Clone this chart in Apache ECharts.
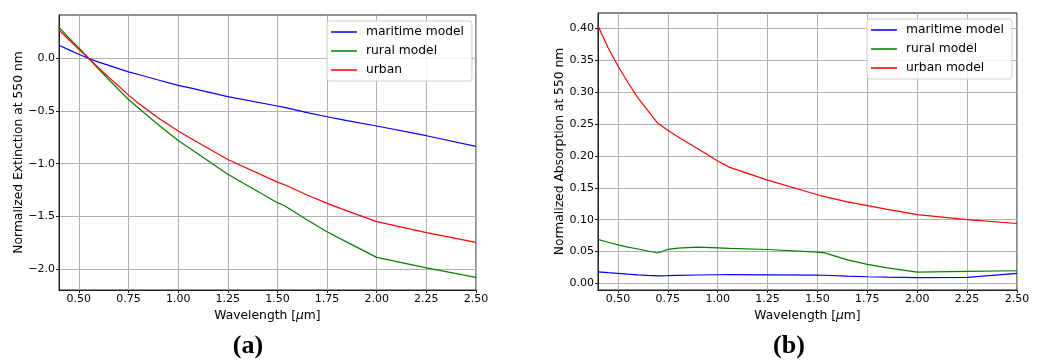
<!DOCTYPE html>
<html>
<head>
<meta charset="utf-8">
<script src="https://cdn.jsdelivr.net/npm/echarts@6/dist/echarts.min.js"></script>
<style>html,body{margin:0;padding:0;background:#fff;}#c{width:1041px;height:360px;}</style>
</head>
<body>
<div id="c"></div>
<script>
const wavelength = [0.4,0.45,0.5,0.55,0.6,0.65,0.7,0.75,0.8,0.9,1.0,1.06,1.25,1.5,1.536,1.65,1.75,1.85,2.0,2.25,2.5];
const xTicks = [0.5,0.75,1.0,1.25,1.5,1.75,2.0,2.25,2.5];
const extTicks = [-2.0,-1.5,-1.0,-0.5,0.0];
const absTicks = [0.0,0.05,0.1,0.15,0.2,0.25,0.3,0.35,0.4];

const extMaritime = [0.125,0.082,0.04,0.0,-0.035,-0.066,-0.096,-0.127,-0.152,-0.205,-0.255,-0.28,-0.362,-0.452,-0.465,-0.515,-0.554,-0.59,-0.642,-0.734,-0.835];
const extRural = [0.295,0.195,0.1,0.0,-0.1,-0.2,-0.295,-0.39,-0.47,-0.63,-0.78,-0.855,-1.10,-1.37,-1.40,-1.535,-1.646,-1.745,-1.89,-1.99,-2.08];
const extUrban = [0.27,0.178,0.088,0.0,-0.09,-0.177,-0.262,-0.348,-0.425,-0.565,-0.69,-0.755,-0.96,-1.175,-1.20,-1.297,-1.377,-1.448,-1.55,-1.655,-1.747];

const absMaritime = [0.018,0.0168,0.0157,0.0145,0.0134,0.0126,0.012,0.0123,0.0127,0.0132,0.0136,0.0137,0.0135,0.013,0.0128,0.0115,0.0105,0.0098,0.009,0.0094,0.0157];
const absRural = [0.069,0.0645,0.0605,0.057,0.054,0.0508,0.0477,0.0535,0.0555,0.0568,0.0558,0.055,0.0532,0.0492,0.0478,0.037,0.0298,0.0245,0.0178,0.0188,0.0199];
const absUrban = [0.404,0.370,0.341,0.315,0.291,0.271,0.251,0.240,0.230,0.211,0.192,0.182,0.162,0.139,0.136,0.128,0.122,0.116,0.108,0.100,0.094];

const FONT = 'DejaVu Sans';
const pairs = arr => wavelength.map((w, i) => [w, arr[i]]);
const fmt = (v, d) => v.toFixed(d).replace('-', '\u2212');

function xAxis(grid) {
  return {
    type: 'value', gridIndex: grid, min: 0.4, max: 2.5,
    name: 'Wavelength [{i|μ}m]', nameLocation: 'middle', nameGap: 14,
    nameTextStyle: { fontFamily: FONT, fontSize: 12.3, color: '#000',
      rich: { i: { fontFamily: FONT, fontStyle: 'italic', fontSize: 12.3, color: '#000' } } },
    axisLine: { show: true, onZero: false, lineStyle: { color: '#222', width: 1 } },
    axisTick: { show: true, length: 3, inside: false, customValues: xTicks, lineStyle: { color: '#222' } },
    axisLabel: { customValues: xTicks, formatter: v => v.toFixed(2), fontFamily: FONT, fontSize: 11, color: '#000', margin: 4 },
    splitLine: { show: true, lineStyle: { color: '#b0b0b0', width: 1 } }
  };
}
function yAxis(grid, name, min, max, ticks, d, gap) {
  return {
    type: 'value', gridIndex: grid, min: min, max: max,
    name: name, nameLocation: 'middle', nameGap: gap,
    nameTextStyle: { fontFamily: FONT, fontSize: 12.3, color: '#000' },
    axisLine: { show: true, onZero: false, lineStyle: { color: '#222', width: 1 } },
    axisTick: { show: true, length: 3, inside: false, customValues: ticks, lineStyle: { color: '#222' } },
    axisLabel: { customValues: ticks, formatter: v => fmt(v, d), fontFamily: FONT, fontSize: 11, color: '#000', margin: 4 },
    splitLine: { show: true, lineStyle: { color: '#b0b0b0', width: 1 } }
  };
}
function line(name, data, color, xi, yi) {
  return { type: 'line', name: name, data: pairs(data), xAxisIndex: xi, yAxisIndex: yi,
    symbol: 'none', smooth: false, lineStyle: { color: color, width: 1.2 }, itemStyle: { color: color },
    animation: false };
}
const legendBase = {
  orient: 'vertical', icon: 'rect', itemWidth: 26, itemHeight: 1.5, itemGap: 7,
  backgroundColor: 'rgba(255,255,255,0.85)', borderColor: '#d0d0d0', borderWidth: 1, borderRadius: 3,
  padding: [5, 8, 5, 4],
  textStyle: { fontFamily: FONT, fontSize: 12.3, color: '#000', padding: [0, 0, 0, 4] }
};

const chart = echarts.init(document.getElementById('c'), null, { renderer: 'canvas' });
chart.setOption({
  animation: false,
  backgroundColor: '#fff',
  grid: [
    { left: 59, top: 15, width: 417, height: 275, show: true, borderColor: '#222', borderWidth: 1, backgroundColor: 'transparent' },
    { left: 598, top: 13, width: 419, height: 277, show: true, borderColor: '#111', borderWidth: 1, backgroundColor: 'transparent' }
  ],
  xAxis: [xAxis(0), xAxis(1)],
  yAxis: [
    yAxis(0, 'Normalized Extinction at 550 nm', -2.2, 0.413, extTicks, 1, 31),
    yAxis(1, 'Normalized Absorption at 550 nm', -0.0103, 0.424, absTicks, 2, 29)
  ],
  legend: [
    Object.assign({}, legendBase, { left: 327, top: 21, data: ['maritime model', 'rural model', 'urban'] }),
    Object.assign({}, legendBase, { left: 867, top: 19, data: ['maritime model', 'rural model', 'urban model'] })
  ],
  series: [
    line('maritime model', extMaritime, '#0000ff', 0, 0),
    line('rural model', extRural, '#008000', 0, 0),
    line('urban', extUrban, '#ff0000', 0, 0),
    line('maritime model', absMaritime, '#0000ff', 1, 1),
    line('rural model', absRural, '#008000', 1, 1),
    line('urban model', absUrban, '#ff0000', 1, 1)
  ],
  graphic: [
    { type: 'text', x: 248, y: 346, style: { text: '(a)', font: 'bold 26px "Liberation Serif"', fill: '#000', textAlign: 'center', textVerticalAlign: 'middle' } },
    { type: 'text', x: 789, y: 346, style: { text: '(b)', font: 'bold 26px "Liberation Serif"', fill: '#000', textAlign: 'center', textVerticalAlign: 'middle' } }
  ]
});
</script>
</body>
</html>
